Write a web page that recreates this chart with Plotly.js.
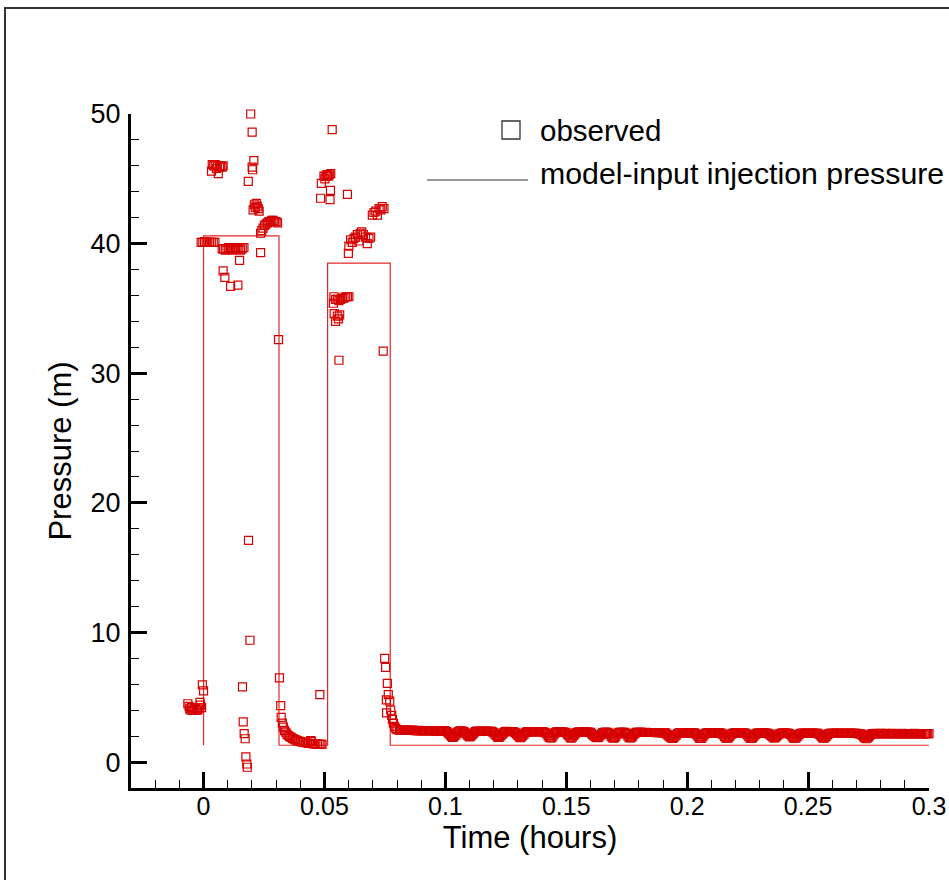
<!DOCTYPE html>
<html>
<head>
<meta charset="utf-8">
<script src="https://cdn.plot.ly/plotly-3.0.1.min.js"></script>
<style>
  html, body { margin: 0; padding: 0; background: #ffffff; }
  #chart { width: 949px; height: 880px; }
</style>
</head>
<body>
<div id="chart"></div>
<script>
// ---- model-input injection pressure (step function) ----
var modelTime = [0, 0, 0.0312, 0.0312, 0.0513, 0.0513, 0.0772, 0.0772, 0.3];
var modelPressure = [1.3, 40.6, 40.6, 1.3, 1.3, 38.5, 38.5, 1.3, 1.3];

// ---- observed: before and during first injection pulse ----
var pulse1Time = [
  -0.0065, -0.006, -0.0057, -0.0053, -0.005, -0.0045, -0.004, -0.0035, -0.003, -0.0025, -0.002, -0.0015, -0.0012, -0.0008, -0.0005, 0.0,
  -0.001, -0.0003, 0.0004, 0.0011, 0.0018, 0.0025, 0.0032, 0.004, 0.0047,
  0.0033, 0.0036, 0.0042, 0.0048, 0.0053, 0.0057, 0.0061, 0.0066, 0.0071, 0.0077, 0.0081,
  0.0077, 0.0083, 0.009, 0.0097, 0.0104, 0.0111, 0.0118, 0.0125, 0.0132, 0.0139, 0.0146, 0.0153, 0.016, 0.0167,
  0.0081, 0.0088, 0.0112, 0.0142, 0.0149,
  0.0161, 0.0164, 0.0168, 0.0172, 0.0175, 0.0179, 0.0181, 0.0186, 0.0192,
  0.0185, 0.0195, 0.0201, 0.0201, 0.0203, 0.0208,
  0.0205, 0.021, 0.0214, 0.0218, 0.0222, 0.0226, 0.023,
  0.0236,
  0.0236, 0.0241, 0.0246, 0.0252, 0.0258, 0.0264, 0.027, 0.0276, 0.0282, 0.0288, 0.0294, 0.03, 0.0306,
  0.031,
  0.0314, 0.0319, 0.0321, 0.0326, 0.033, 0.0335, 0.034, 0.0345, 0.035, 0.0356, 0.0362, 0.0368, 0.0374, 0.038,
  0.0387, 0.0394, 0.0401, 0.0408, 0.0415, 0.0422, 0.0429, 0.0436, 0.0443, 0.0446, 0.045, 0.0457, 0.0464, 0.0471,
  0.0478, 0.0481, 0.0485, 0.049
];
var pulse1Pressure = [
  4.5, 4.3, 4.1, 4.0, 4.2, 4.0, 4.0, 4.1, 4.0, 4.0, 4.1, 4.6, 4.4, 4.2, 5.95, 5.5,
  40.1, 40.1, 40.15, 40.1, 40.1, 40.1, 40.1, 40.1, 40.1,
  45.6, 46.1, 46.0, 46.1, 45.8, 46.0, 45.4, 45.9, 46.0, 45.9, 46.0,
  39.6, 39.6, 39.5, 39.6, 39.7, 39.6, 39.5, 39.6, 39.6, 39.7, 39.6, 39.5, 39.6, 39.7,
  37.9, 37.4, 36.7, 36.8, 38.7,
  5.8, 3.1, 2.2, 1.8, 0.4, -0.15, -0.4, 17.1, 9.4,
  44.8, 50.0, 48.6, 45.9, 45.7, 46.4,
  42.6, 43.0, 42.8, 43.1, 42.9, 42.7, 42.5,
  39.3,
  40.8, 41.0, 41.2, 41.4, 41.5, 41.6, 41.7, 41.7, 41.8, 41.8, 41.7, 41.7, 41.6,
  32.6,
  6.5, 4.35, 3.45, 3.0, 2.7, 2.45, 2.3, 2.15, 2.05, 1.97, 1.9, 1.83, 1.77, 1.72,
  1.67, 1.62, 1.58, 1.55, 1.52, 1.49, 1.47, 1.45, 1.65, 1.6, 1.43, 1.41, 1.4, 1.39,
  1.38, 5.2, 1.37, 1.37
];

// ---- observed: second injection pulse ----
var pulse2Time = [
  0.0484, 0.0487, 0.0498, 0.0502, 0.0506, 0.051, 0.0512, 0.0516, 0.052, 0.0523, 0.0525, 0.0526, 0.0532, 0.0595,
  0.0537, 0.0539, 0.0546, 0.0553, 0.056, 0.0567, 0.0574, 0.0581, 0.0588, 0.0595, 0.0601,
  0.054, 0.0546, 0.0553, 0.0558, 0.0563,
  0.056,
  0.0599, 0.0601, 0.0608, 0.0615, 0.0622, 0.0629, 0.0636, 0.0643, 0.0648, 0.0654, 0.0661, 0.067, 0.0677, 0.0684, 0.0691,
  0.0698, 0.0705, 0.0712, 0.0719, 0.0726, 0.0733, 0.0739, 0.0746,
  0.0743,
  0.0749, 0.0753, 0.0756, 0.0757, 0.076, 0.0764, 0.077, 0.0774, 0.0778, 0.0781, 0.0785, 0.079, 0.0795, 0.08
];
var pulse2Pressure = [
  43.5, 44.65, 45.2, 45.0, 45.2, 45.3, 45.3, 45.2, 45.3, 43.4, 44.1, 45.4, 48.8, 43.8,
  35.4, 35.9, 35.7, 35.7, 35.6, 35.7, 35.8, 35.8, 35.9, 35.9, 35.9,
  34.6, 34.0, 34.4, 34.2, 34.5,
  31.0,
  39.25, 39.8, 40.3, 40.1, 40.4, 40.5, 40.7, 40.2, 40.8, 40.9, 40.7, 40.5, 40.0, 40.4, 40.5,
  42.2, 42.4, 42.5, 42.2, 42.7, 42.6, 42.85, 42.7,
  31.7,
  8.0, 7.3, 4.8, 3.8, 6.07, 5.2, 4.7, 4.0, 3.6, 3.3, 3.0, 2.75, 2.6, 2.5
];

// ---- observed: recovery tail (read at whole thousandths of an hour) ----
var tailTime = [
  0.081, 0.082, 0.083, 0.084, 0.085, 0.086, 0.087, 0.088, 0.089, 0.090,
  0.091, 0.092, 0.093, 0.094, 0.095, 0.096, 0.097, 0.098, 0.099, 0.100,
  0.101, 0.102, 0.103, 0.104, 0.105, 0.106, 0.107, 0.108, 0.109, 0.110,
  0.111, 0.112, 0.113, 0.114, 0.115, 0.116, 0.117, 0.118, 0.119, 0.120,
  0.121, 0.122, 0.123, 0.124, 0.125, 0.126, 0.127, 0.128, 0.129, 0.130,
  0.131, 0.132, 0.133, 0.134, 0.135, 0.136, 0.137, 0.138, 0.139, 0.140,
  0.141, 0.142, 0.143, 0.144, 0.145, 0.146, 0.147, 0.148, 0.149, 0.150,
  0.151, 0.152, 0.153, 0.154, 0.155, 0.156, 0.157, 0.158, 0.159, 0.160,
  0.161, 0.162, 0.163, 0.164, 0.165, 0.166, 0.167, 0.168, 0.169, 0.170,
  0.171, 0.172, 0.173, 0.174, 0.175, 0.176, 0.177, 0.178, 0.179, 0.180,
  0.181, 0.182, 0.183, 0.184, 0.185, 0.186, 0.187, 0.188, 0.189, 0.190,
  0.191, 0.192, 0.193, 0.194, 0.195, 0.196, 0.197, 0.198, 0.199, 0.200,
  0.201, 0.202, 0.203, 0.204, 0.205, 0.206, 0.207, 0.208, 0.209, 0.210,
  0.211, 0.212, 0.213, 0.214, 0.215, 0.216, 0.217, 0.218, 0.219, 0.220,
  0.221, 0.222, 0.223, 0.224, 0.225, 0.226, 0.227, 0.228, 0.229, 0.230,
  0.231, 0.232, 0.233, 0.234, 0.235, 0.236, 0.237, 0.238, 0.239, 0.240,
  0.241, 0.242, 0.243, 0.244, 0.245, 0.246, 0.247, 0.248, 0.249, 0.250,
  0.251, 0.252, 0.253, 0.254, 0.255, 0.256, 0.257, 0.258, 0.259, 0.260,
  0.261, 0.262, 0.263, 0.264, 0.265, 0.266, 0.267, 0.268, 0.269, 0.270,
  0.271, 0.272, 0.273, 0.274, 0.275, 0.276, 0.277, 0.278, 0.279, 0.280,
  0.281, 0.282, 0.283, 0.284, 0.285, 0.286, 0.287, 0.288, 0.289, 0.290,
  0.291, 0.292, 0.293, 0.294, 0.295, 0.296, 0.297, 0.298, 0.299, 0.300
];
var tailPressure = [
  2.46, 2.45, 2.45, 2.44, 2.45, 2.44, 2.44, 2.43, 2.44, 2.43,
  2.43, 2.42, 2.43, 2.42, 2.42, 2.41, 2.42, 2.41, 2.41, 2.40,
  2.30, 2.10, 1.90, 2.05, 2.30, 2.40, 2.39, 2.30, 2.10, 1.95,
  2.10, 2.30, 2.39, 2.38, 2.38, 2.38, 2.37, 2.38, 2.37, 2.27,
  2.05, 1.90, 2.05, 2.25, 2.37, 2.36, 2.36, 2.36, 2.25, 2.05,
  1.88, 2.05, 2.25, 2.35, 2.35, 2.35, 2.34, 2.35, 2.34, 2.34,
  2.30, 2.18, 1.90, 1.88, 2.18, 2.33, 2.33, 2.33, 2.32, 2.25,
  2.05, 1.85, 2.05, 2.25, 2.32, 2.32, 2.31, 2.32, 2.31, 2.30,
  2.10, 1.95, 1.88, 2.05, 2.25, 2.31, 2.30, 2.15, 1.88, 1.88,
  2.15, 2.30, 2.30, 2.30, 2.15, 1.88, 1.90, 2.15, 2.29, 2.29,
  2.29, 2.28, 2.29, 2.28, 2.28, 2.28, 2.28, 2.27, 2.28, 2.27,
  2.25, 2.10, 1.92, 1.83, 2.00, 2.20, 2.27, 2.27, 2.26, 2.27,
  2.26, 2.26, 2.25, 2.12, 1.85, 1.85, 2.12, 2.25, 2.26, 2.25,
  2.25, 2.26, 2.25, 2.24, 2.10, 1.85, 1.87, 2.10, 2.24, 2.25,
  2.24, 2.25, 2.24, 2.24, 2.10, 1.84, 1.86, 2.10, 2.23, 2.24,
  2.24, 2.23, 2.24, 2.15, 2.00, 1.85, 2.00, 2.18, 2.23, 2.23,
  2.23, 2.22, 2.10, 1.85, 1.86, 2.10, 2.22, 2.23, 2.22, 2.22,
  2.22, 2.23, 2.22, 2.22, 2.10, 1.86, 1.88, 2.12, 2.22, 2.22,
  2.22, 2.21, 2.22, 2.21, 2.21, 2.22, 2.21, 2.21, 2.21, 2.21,
  2.20, 2.15, 1.95, 1.80, 1.95, 2.15, 2.20, 2.21, 2.20, 2.21,
  2.20, 2.21, 2.20, 2.20, 2.21, 2.20, 2.20, 2.20, 2.21, 2.20,
  2.20, 2.20, 2.20, 2.21, 2.20, 2.20, 2.20, 2.20, 2.20, 2.20
];
// ---- observed: recovery tail (read at the half-thousandths) ----
var tailHalfTime = [
  0.0815, 0.0825, 0.0835, 0.0845, 0.0855, 0.0865, 0.0875, 0.0885, 0.0895, 0.0905,
  0.0915, 0.0925, 0.0935, 0.0945, 0.0955, 0.0965, 0.0975, 0.0985, 0.0995, 0.1005,
  0.1015, 0.1025, 0.1035, 0.1045, 0.1055, 0.1065, 0.1075, 0.1085, 0.1095, 0.1105,
  0.1115, 0.1125, 0.1135, 0.1145, 0.1155, 0.1165, 0.1175, 0.1185, 0.1195, 0.1205,
  0.1215, 0.1225, 0.1235, 0.1245, 0.1255, 0.1265, 0.1275, 0.1285, 0.1295, 0.1305,
  0.1315, 0.1325, 0.1335, 0.1345, 0.1355, 0.1365, 0.1375, 0.1385, 0.1395, 0.1405,
  0.1415, 0.1425, 0.1435, 0.1445, 0.1455, 0.1465, 0.1475, 0.1485, 0.1495, 0.1505,
  0.1515, 0.1525, 0.1535, 0.1545, 0.1555, 0.1565, 0.1575, 0.1585, 0.1595, 0.1605,
  0.1615, 0.1625, 0.1635, 0.1645, 0.1655, 0.1665, 0.1675, 0.1685, 0.1695, 0.1705,
  0.1715, 0.1725, 0.1735, 0.1745, 0.1755, 0.1765, 0.1775, 0.1785, 0.1795, 0.1805,
  0.1815, 0.1825, 0.1835, 0.1845, 0.1855, 0.1865, 0.1875, 0.1885, 0.1895, 0.1905,
  0.1915, 0.1925, 0.1935, 0.1945, 0.1955, 0.1965, 0.1975, 0.1985, 0.1995, 0.2005,
  0.2015, 0.2025, 0.2035, 0.2045, 0.2055, 0.2065, 0.2075, 0.2085, 0.2095, 0.2105,
  0.2115, 0.2125, 0.2135, 0.2145, 0.2155, 0.2165, 0.2175, 0.2185, 0.2195, 0.2205,
  0.2215, 0.2225, 0.2235, 0.2245, 0.2255, 0.2265, 0.2275, 0.2285, 0.2295, 0.2305,
  0.2315, 0.2325, 0.2335, 0.2345, 0.2355, 0.2365, 0.2375, 0.2385, 0.2395, 0.2405,
  0.2415, 0.2425, 0.2435, 0.2445, 0.2455, 0.2465, 0.2475, 0.2485, 0.2495, 0.2505,
  0.2515, 0.2525, 0.2535, 0.2545, 0.2555, 0.2565, 0.2575, 0.2585, 0.2595, 0.2605,
  0.2615, 0.2625, 0.2635, 0.2645, 0.2655, 0.2665, 0.2675, 0.2685, 0.2695, 0.2705,
  0.2715, 0.2725, 0.2735, 0.2745, 0.2755, 0.2765, 0.2775, 0.2785, 0.2795, 0.2805,
  0.2815, 0.2825, 0.2835, 0.2845, 0.2855, 0.2865, 0.2875, 0.2885, 0.2895, 0.2905,
  0.2915, 0.2925, 0.2935, 0.2945, 0.2955, 0.2965, 0.2975, 0.2985, 0.2995
];
var tailHalfPressure = [
  2.45, 2.45, 2.44, 2.44, 2.44, 2.44, 2.43, 2.43, 2.43, 2.43,
  2.42, 2.42, 2.42, 2.42, 2.41, 2.41, 2.41, 2.41, 2.40, 2.36,
  2.20, 1.98, 1.95, 2.18, 2.36, 2.40, 2.35, 2.20, 2.02, 2.00,
  2.20, 2.36, 2.38, 2.38, 2.38, 2.37, 2.37, 2.37, 2.33, 2.15,
  1.95, 1.95, 2.15, 2.32, 2.36, 2.36, 2.36, 2.31, 2.15, 1.95,
  1.95, 2.15, 2.31, 2.35, 2.35, 2.34, 2.34, 2.34, 2.34, 2.33,
  2.25, 2.02, 1.86, 2.02, 2.27, 2.33, 2.33, 2.32, 2.30, 2.15,
  1.93, 1.93, 2.15, 2.29, 2.32, 2.31, 2.31, 2.31, 2.30, 2.20,
  2.02, 1.90, 1.95, 2.15, 2.28, 2.30, 2.23, 2.00, 1.85, 2.00,
  2.23, 2.30, 2.30, 2.23, 2.00, 1.86, 2.02, 2.23, 2.29, 2.29,
  2.28, 2.28, 2.28, 2.28, 2.28, 2.28, 2.27, 2.27, 2.27, 2.26,
  2.18, 2.00, 1.86, 1.90, 2.10, 2.24, 2.27, 2.26, 2.26, 2.26,
  2.26, 2.25, 2.18, 1.98, 1.83, 1.98, 2.19, 2.25, 2.25, 2.25,
  2.25, 2.25, 2.24, 2.17, 1.97, 1.84, 1.98, 2.17, 2.24, 2.24,
  2.24, 2.24, 2.24, 2.17, 1.97, 1.83, 1.98, 2.17, 2.23, 2.24,
  2.23, 2.23, 2.20, 2.07, 1.92, 1.92, 2.09, 2.20, 2.23, 2.23,
  2.22, 2.16, 1.97, 1.84, 1.98, 2.16, 2.22, 2.22, 2.22, 2.22,
  2.22, 2.22, 2.22, 2.16, 1.98, 1.85, 2.00, 2.17, 2.22, 2.22,
  2.21, 2.21, 2.21, 2.21, 2.21, 2.21, 2.21, 2.21, 2.21, 2.20,
  2.18, 2.05, 1.86, 1.86, 2.05, 2.18, 2.20, 2.20, 2.20, 2.20,
  2.20, 2.20, 2.20, 2.20, 2.20, 2.20, 2.20, 2.20, 2.20, 2.20,
  2.20, 2.20, 2.20, 2.20, 2.20, 2.20, 2.20, 2.20, 2.20
];

var xTickVals = [0, 0.05, 0.1, 0.15, 0.2, 0.25, 0.3];
var xTickText = ['0', '0.05', '0.1', '0.15', '0.2', '0.25', '0.3'];
var yTickVals = [0, 10, 20, 30, 40, 50];
var yTickText = ['0', '10', '20', '30', '40', '50'];

var obsT = pulse1Time.concat(pulse2Time, tailTime, tailHalfTime);
var obsP = pulse1Pressure.concat(pulse2Pressure, tailPressure, tailHalfPressure);

var red = 'rgb(214,0,0)';
var FONT = 'Liberation Sans, Arial, Helvetica, sans-serif';

var traces = [
  {
    x: modelTime, y: modelPressure, type: 'scatter', mode: 'lines',
    line: { color: 'rgb(226,40,40)', width: 1.2 },
    name: 'model-input injection pressure', showlegend: false, hoverinfo: 'skip', cliponaxis: false
  },
  {
    x: obsT, y: obsP, type: 'scatter', mode: 'markers', cliponaxis: false,
    marker: { symbol: 'square-open', size: 8, color: red, line: { width: 1.2, color: red } },
    name: 'observed', showlegend: false
  }
];

// plot area in px: x 131..929, y 114..788
function px2x(p) { return (p - 131) / 798; }
function px2y(p) { return (788 - p) / 674; }

var layout = {
  width: 949, height: 880,
  margin: { l: 131, r: 20, t: 114, b: 92 },
  paper_bgcolor: '#ffffff', plot_bgcolor: '#ffffff',
  showlegend: false,
  font: { family: FONT, color: '#000000', size: 24 },
  xaxis: {
    range: [-0.03, 0.3], showgrid: false, zeroline: false,
    showline: true, linecolor: '#000000', linewidth: 3, mirror: false,
    tickmode: 'array', tickvals: xTickVals, ticktext: xTickText,
    ticks: 'inside', ticklen: 16, tickwidth: 3, tickcolor: '#000000',
    tickfont: { family: FONT, size: 25, color: '#000000' },
    ticklabelstandoff: -6,
    minor: { ticks: 'inside', ticklen: 8, tickwidth: 1, tickcolor: '#000000', dtick: 0.01, tick0: 0, showgrid: false },
    title: { text: 'Time (hours)', font: { family: FONT, size: 31, color: '#000000' }, standoff: 3 },
    automargin: false
  },
  yaxis: {
    range: [-2, 50], showgrid: false, zeroline: false,
    showline: true, linecolor: '#000000', linewidth: 3, mirror: false,
    tickmode: 'array', tickvals: yTickVals, ticktext: yTickText,
    ticks: 'inside', ticklen: 16, tickwidth: 3, tickcolor: '#000000',
    tickfont: { family: FONT, size: 27, color: '#000000' },
    ticklabelstandoff: 2,
    minor: { ticks: 'inside', ticklen: 8, tickwidth: 1, tickcolor: '#000000', dtick: 2, tick0: 0, showgrid: false },
    title: { text: 'Pressure (m)', font: { family: FONT, size: 31, color: '#000000' }, standoff: 10 },
    automargin: false
  },
  shapes: [
    { type: 'rect', xref: 'paper', yref: 'paper',
      x0: px2x(5), x1: 2, y0: -2, y1: px2y(8),
      line: { color: '#333333', width: 2 }, fillcolor: 'rgba(0,0,0,0)', layer: 'below' },
    { type: 'rect', xref: 'paper', yref: 'paper',
      x0: px2x(502), x1: px2x(520), y0: px2y(139), y1: px2y(121),
      line: { color: '#333333', width: 1.3 }, fillcolor: 'rgba(0,0,0,0)' },
    { type: 'line', xref: 'paper', yref: 'paper',
      x0: px2x(427), x1: px2x(528), y0: px2y(180), y1: px2y(180),
      line: { color: '#333333', width: 1 } }
  ],
  annotations: [
    { xref: 'paper', yref: 'paper', x: px2x(538), y: px2y(130), xanchor: 'left', yanchor: 'middle',
      text: 'observed', showarrow: false, font: { family: FONT, size: 29.5, color: '#000000' } },
    { xref: 'paper', yref: 'paper', x: px2x(538), y: px2y(174), xanchor: 'left', yanchor: 'middle',
      text: 'model-input injection pressure', showarrow: false, font: { family: FONT, size: 30.3, color: '#000000' } }
  ]
};

Plotly.newPlot('chart', traces, layout, { displayModeBar: false, staticPlot: true });
</script>
</body>
</html>
